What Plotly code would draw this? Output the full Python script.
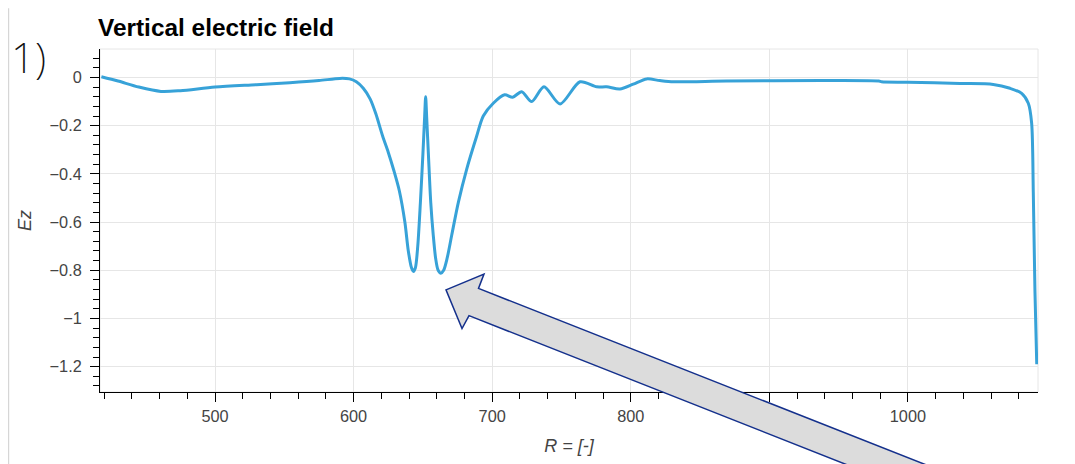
import plotly.graph_objects as go

# ---- data ----
r_vals = [418, 430, 445, 461, 475, 500, 530, 554, 575, 590, 597, 602, 607, 612, 616,
          621, 625, 629, 633, 637, 639.5, 641.8, 643.2, 644.6, 646.3, 648.2, 650, 651.3,
          652, 652.7, 654, 655.7, 657.5, 659.2, 661, 663, 665, 667.5, 670.8, 675.6,
          681.6, 688.8, 693.6, 700.8, 709, 714.8, 721.3, 728.5, 737.4, 749, 763.4,
          775.4, 782.6, 792.2, 801.8, 811.5, 821, 831, 869, 937, 979, 981, 1000,
          1037.6, 1061.6, 1073.7, 1082.1, 1086.9, 1089.3, 1090.5, 1091.7, 1093]
ez_vals = [0.003, -0.015, -0.040, -0.058, -0.055, -0.040, -0.030, -0.022, -0.013, -0.004,
           -0.006, -0.018, -0.045, -0.09, -0.15, -0.244, -0.31, -0.385, -0.47, -0.60,
           -0.72, -0.79, -0.805, -0.79, -0.70, -0.52, -0.32, -0.16, -0.08, -0.16, -0.32,
           -0.52, -0.655, -0.75, -0.80, -0.812, -0.80, -0.75, -0.655, -0.518, -0.381,
           -0.244, -0.16, -0.107, -0.072, -0.082, -0.059, -0.100, -0.039, -0.110, -0.018,
           -0.039, -0.039, -0.048, -0.028, -0.006, -0.013, -0.018, -0.015, -0.013, -0.015,
           -0.018, -0.020, -0.025, -0.029, -0.045, -0.066, -0.107, -0.189, -0.476, -0.887,
           -1.19]

x_tickvals = [500, 600, 700, 800, 900, 1000]
y_tickvals = [-1.2, -1.0, -0.8, -0.6, -0.4, -0.2, 0.0]

title_text = "Vertical electric field"
x_title = "R = [-]"
y_title = "Ez"
panel_label = "1)"

# ---- layout geometry (page pixels; page body has an 8px margin) ----
OFF = 8
W, H = 1075 - OFF, 464 - OFF
ML, MR, MT, MB = 100 - OFF, 37, 49 - OFF, 69


def px_x(px):
    return (px - OFF - ML) / (W - ML - MR)


def px_y(py):
    return (H - MB - (py - OFF)) / (H - MT - MB)


LINE = "#37a2d8"
GRID = "#e6e6e6"
TXT = "#444444"
FONT = "Liberation Sans, Arial, Helvetica, sans-serif"

fig = go.Figure()
fig.add_trace(go.Scatter(x=r_vals, y=ez_vals, mode="lines",
                         line=dict(color=LINE, width=3, shape="spline", smoothing=0.8),
                         showlegend=False, hoverinfo="skip"))

axis_common = dict(
    showline=True, linecolor="black", linewidth=1,
    ticks="outside", ticklen=9, tickwidth=1, tickcolor="black",
    showgrid=True, gridcolor=GRID, gridwidth=1, zeroline=False,
    tickfont=dict(family=FONT, size=16.3, color=TXT),
)

fig.update_xaxes(range=[417, 1093.9], tickvals=x_tickvals,
                 minor=dict(ticks="outside", ticklen=6, dtick=20, tick0=400,
                            tickcolor="black", showgrid=False),
                 title=dict(text=x_title, font=dict(family=FONT, size=18, color=TXT,
                                                     style="italic"), standoff=15),
                 **axis_common)
fig.update_yaxes(range=[-1.305, 0.118], tickvals=y_tickvals, ticklabelstandoff=5,
                 minor=dict(ticks="outside", ticklen=6, dtick=0.04, tick0=0,
                            tickcolor="black", showgrid=False),
                 title=dict(text=y_title, font=dict(family=FONT, size=18, color=TXT,
                                                     style="italic"), standoff=13),
                 **axis_common)

# plot frame outline (light) and page border (left edge)
shapes = [
    dict(type="rect", xref="paper", yref="paper", x0=0, x1=1, y0=0, y1=1,
         line=dict(color=GRID, width=1), layer="below"),
    dict(type="line", xref="paper", yref="paper", x0=px_x(OFF + 0.6), x1=px_x(OFF + 0.6),
         y0=px_y(OFF), y1=px_y(470), line=dict(color="#d6d6d6", width=1.2)),
]

# block arrow overlay (page pixel outline -> paper coords)
arrow_px = [(446, 292), (484, 276), (478.5, 290.5), (940, 474), (861, 474),
            (469, 318), (462, 331)]
path = "M " + " L ".join(f"{px_x(a):.5f},{px_y(b):.5f}" for a, b in arrow_px) + " Z"
shapes.append(dict(type="path", xref="paper", yref="paper", path=path,
                   fillcolor="#dcdcdc", line=dict(color="#14308c", width=1.5),
                   layer="above"))

fig.update_layout(
    width=W, height=H,
    margin=dict(l=ML, r=MR, t=MT, b=MB),
    paper_bgcolor="white", plot_bgcolor="white",
    shapes=shapes,
    title=dict(text=f"<b>{title_text}</b>", xref="container", yref="container",
               x=(98 - OFF) / W, xanchor="left", y=1 - (27 - OFF) / H, yanchor="middle",
               font=dict(family=FONT, size=24.4, color="black")),
    annotations=[dict(text=panel_label, xref="paper", yref="paper",
                      x=px_x(9), y=px_y(57), xanchor="left", yanchor="middle",
                      showarrow=False,
                      font=dict(family="Noto Sans, DejaVu Sans", size=42,
                                color="#111111", weight=200))],
)

fig.write_html("out.html")
